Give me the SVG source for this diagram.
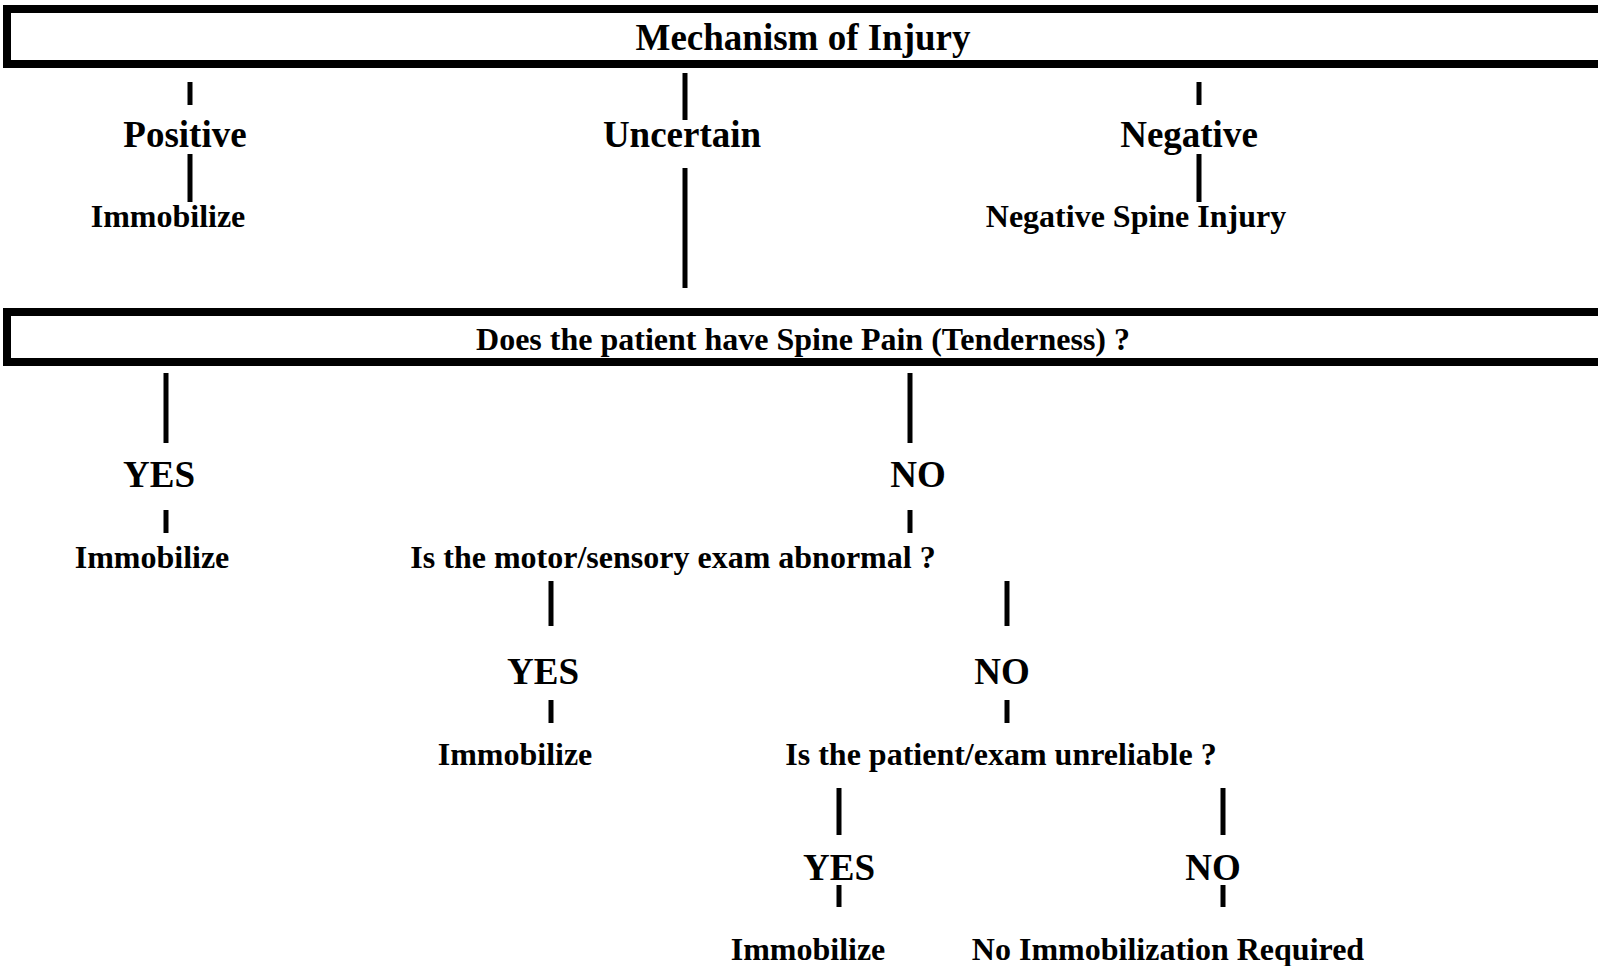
<svg xmlns="http://www.w3.org/2000/svg" width="1598" height="966" viewBox="0 0 1598 966">
<style>
.box{fill:none;stroke:#000;stroke-width:8}
.t{font-family:"Liberation Serif","Times New Roman",serif;font-weight:bold;fill:#000;text-anchor:middle}
.big{font-size:37px}
.sm{font-size:32px}
.c line{stroke:#000;stroke-width:5}
</style>
<rect width="1598" height="966" fill="#fff"/>
<g id="mechanism">
<rect class="box" x="7" y="9" width="1595" height="55"/>
<text class="t big" x="803" y="50">Mechanism of Injury</text>
</g>
<g id="positive"><text class="t big" x="185" y="147">Positive</text></g>
<g id="uncertain"><text class="t big" x="682" y="147">Uncertain</text></g>
<g id="negative"><text class="t big" x="1189" y="147">Negative</text></g>
<g id="immobilize1"><text class="t sm" x="168" y="227">Immobilize</text></g>
<g id="negspine"><text class="t sm" x="1136" y="227">Negative Spine Injury</text></g>
<g id="spinepain">
<rect class="box" x="7" y="312" width="1595" height="50"/>
<text class="t sm" x="803" y="350">Does the patient have Spine Pain (Tenderness) ?</text>
</g>
<g id="yes1"><text class="t big" x="159" y="487">YES</text></g>
<g id="no1"><text class="t big" x="918" y="487">NO</text></g>
<g id="immobilize2"><text class="t sm" x="152" y="568">Immobilize</text></g>
<g id="motor"><text class="t sm" x="673" y="568">Is the motor/sensory exam abnormal ?</text></g>
<g id="yes2"><text class="t big" x="543" y="684">YES</text></g>
<g id="no2"><text class="t big" x="1002" y="684">NO</text></g>
<g id="immobilize3"><text class="t sm" x="515" y="765">Immobilize</text></g>
<g id="reliable"><text class="t sm" x="1001" y="765">Is the patient/exam unreliable ?</text></g>
<g id="yes3"><text class="t big" x="839" y="880">YES</text></g>
<g id="no3"><text class="t big" x="1213" y="880">NO</text></g>
<g id="immobilize4"><text class="t sm" x="808" y="960">Immobilize</text></g>
<g id="noimmob"><text class="t sm" x="1168" y="960">No Immobilization Required</text></g>
<g id="connectors" class="c">
<line x1="190" y1="82" x2="190" y2="105"/>
<line x1="190" y1="154" x2="190" y2="202"/>
<line x1="685" y1="73" x2="685" y2="120"/>
<line x1="685" y1="168" x2="685" y2="288"/>
<line x1="1199" y1="82" x2="1199" y2="105"/>
<line x1="1199" y1="154" x2="1199" y2="202"/>
<line x1="166" y1="373" x2="166" y2="443"/>
<line x1="166" y1="510" x2="166" y2="533"/>
<line x1="910" y1="373" x2="910" y2="443"/>
<line x1="910" y1="510" x2="910" y2="533"/>
<line x1="551" y1="581" x2="551" y2="626"/>
<line x1="1007" y1="581" x2="1007" y2="626"/>
<line x1="551" y1="700" x2="551" y2="723"/>
<line x1="1007" y1="700" x2="1007" y2="723"/>
<line x1="839" y1="788" x2="839" y2="835"/>
<line x1="1223" y1="788" x2="1223" y2="835"/>
<line x1="839" y1="885" x2="839" y2="907"/>
<line x1="1223" y1="885" x2="1223" y2="907"/>
</g>
</svg>
